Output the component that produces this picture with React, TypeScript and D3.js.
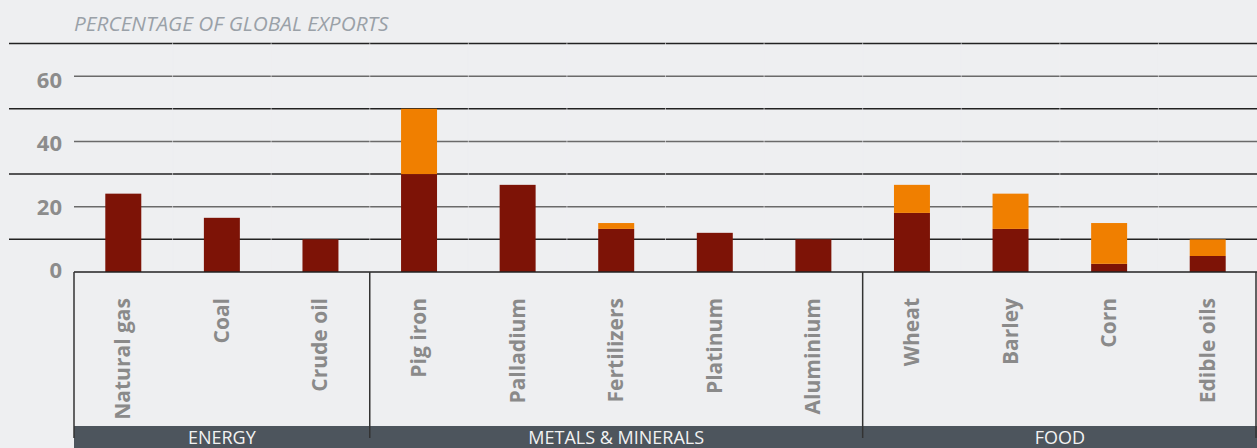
import React from "react";
import * as d3 from "d3";

const categories = ["Natural gas", "Coal", "Crude oil", "Pig iron", "Palladium", "Fertilizers", "Platinum", "Aluminium", "Wheat", "Barley", "Corn", "Edible oils"];
const baseValues = [24, 16.6, 10, 30, 26.7, 13.2, 12, 10, 18.1, 13.2, 2.5, 4.9];
const extraValues = [0, 0, 0, 20, 0, 1.8, 0, 0, 8.6, 10.8, 12.5, 5.1];
const groupNames = ["ENERGY", "METALS & MINERALS", "FOOD"];
const groupSizes = [3, 5, 4];
const labeledTicks = [0, 20, 40, 60];
const minorTicks = [10, 30, 50, 70];
const title = "PERCENTAGE OF GLOBAL EXPORTS";

const W = 1257;
const H = 448;
const BG = "#eeeff1";
const DARK = "#7d1306";
const ORANGE = "#f07f00";

export default function App() {
  const x = d3.scaleBand<string>().domain(categories).range([74, 1257]).paddingInner(0.635).paddingOuter(0.3175);
  const y = d3.scaleLinear().domain([0, 70]).range([272, 43.5]);
  const labelY = d3.scaleLinear().domain([0, 60]).range([278, 87.5]);
  const step = x.step();
  const left = 74;

  const stack = d3.stack<number>().keys(["base", "extra"]).value((i, k) => (k === "base" ? baseValues[i] : extraValues[i]));
  const series = stack(categories.map((_, i) => i) as any);

  let acc = 0;
  const groups = groupNames.map((name, gi) => {
    const start = acc;
    acc += groupSizes[gi];
    return { name, x0: left + start * step, x1: left + acc * step };
  });

  const font = "'Open Sans', 'Noto Sans', sans-serif";

  return (
    <div style={{ position: "absolute", left: 0, top: 0 }}>
      <svg width={W} height={H} style={{ display: "block" }}>
        <rect x={0} y={0} width={W} height={H} fill={BG} />
        <text x={left} y={31} fontFamily={font} fontStyle="italic" fontSize={20.8} fill="#9aa1a8">{title}</text>

        {minorTicks.map((t) => (
          <line key={"m" + t} x1={9} x2={W} y1={y(t)} y2={y(t)} stroke="#222" strokeWidth={1.5} />
        ))}
        {labeledTicks.filter((t) => t > 0).map((t) => (
          <line key={"l" + t} x1={left} x2={W} y1={y(t)} y2={y(t)} stroke="#6a6a6a" strokeWidth={1.5} />
        ))}
        {categories.slice(1).map((c) => (
          <line key={"v" + c} x1={(x(c) as number) - (step - x.bandwidth()) / 2} x2={(x(c) as number) - (step - x.bandwidth()) / 2} y1={y(70) - 1} y2={y(0) - 1} stroke={BG} strokeOpacity={0.6} strokeWidth={1} />
        ))}

        {labeledTicks.map((t) => (
          <text key={"t" + t} x={62} y={labelY(t)} textAnchor="end" fontFamily={font} fontWeight={700} fontSize={22} fill="#8c8c8c">{t}</text>
        ))}

        {series.map((s, si) => (
          <g key={si} fill={si === 0 ? DARK : ORANGE}>
            {s.map((d, i) =>
              d[1] - d[0] > 0 ? (
                <rect key={i} x={x(categories[i])} width={x.bandwidth()} y={y(d[1])} height={y(d[0]) - y(d[1])} />
              ) : null
            )}
          </g>
        ))}

        <line x1={left} x2={W} y1={y(0)} y2={y(0)} stroke="#222" strokeWidth={1.5} />

        {categories.map((c) => {
          const cx = (x(c) as number) + x.bandwidth() / 2 + 7;
          return (
            <text key={"c" + c} transform={`translate(${cx},298) rotate(-90)`} textAnchor="end" fontFamily={font} fontWeight={700} fontSize={21} fill="#8a8a8a">{c}</text>
          );
        })}

        <rect x={left} y={426} width={W - left} height={H - 426} fill="#4d555d" />
        {groups.map((g) => (
          <text key={g.name} x={(g.x0 + g.x1) / 2} y={443.5} textAnchor="middle" fontFamily={font} fontSize={18} fill="#f2f2f2">{g.name}</text>
        ))}
        {[groups[0].x0, ...groups.map((g) => g.x1)].map((gx, i) => (
          <line key={"g" + i} x1={Math.min(gx, W - 1)} x2={Math.min(gx, W - 1)} y1={y(0)} y2={438} stroke="#333" strokeWidth={1.5} />
        ))}
      </svg>
    </div>
  );
}
